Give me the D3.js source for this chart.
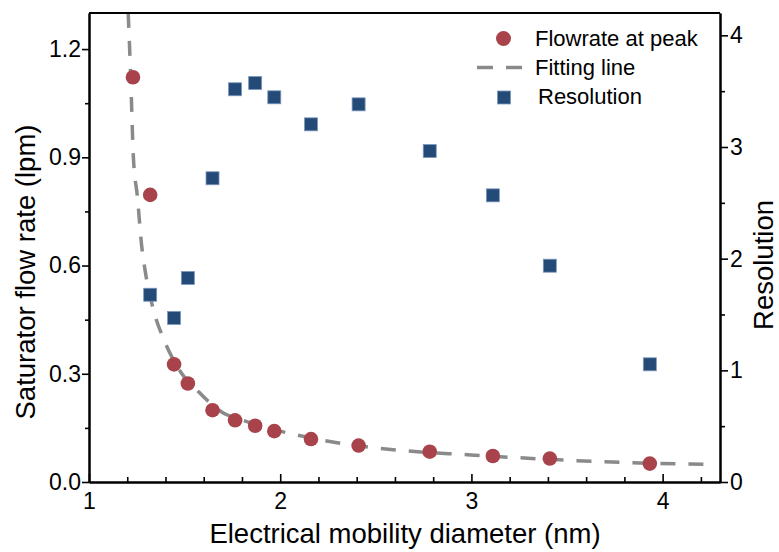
<!DOCTYPE html>
<html><head><meta charset="utf-8">
<script src="https://cdn.jsdelivr.net/npm/d3@7"></script>
<style>
html,body{margin:0;padding:0;background:#fff;}
svg{display:block;font-family:"Liberation Sans",Arial,sans-serif;}
</style></head>
<body><svg id="c" width="779" height="552"></svg>
<script>
// Data
const diameter = [1.23,1.32,1.445,1.517,1.646,1.764,1.869,1.969,2.161,2.41,2.782,3.112,3.41,3.933];
const flowrate = [1.122,0.796,0.326,0.273,0.199,0.171,0.156,0.141,0.119,0.101,0.084,0.072,0.065,0.051];
const resDiameter = [1.32,1.445,1.517,1.646,1.764,1.869,1.969,2.161,2.41,2.782,3.112,3.41,3.933];
const resolution = [1.677,1.469,1.827,2.72,3.517,3.573,3.445,3.203,3.382,2.964,2.567,1.937,1.054];
const fitDiameter = [1.205,1.218,1.232,1.253,1.276,1.293,1.337,1.389,1.433,1.5,1.555,1.625,1.7,1.8,1.9,2.0,2.227,2.524,2.995,3.4,3.69,4.22];
const fitFlow = [1.3,1.124,0.902,0.791,0.652,0.588,0.477,0.398,0.347,0.29,0.26,0.223,0.192,0.172,0.155,0.141,0.115,0.093,0.075,0.063,0.056,0.049];
const xMajor = [1,2,3,4];
const xMinor = [1.2,1.4,1.6,1.8,2.2,2.4,2.6,2.8,3.2,3.4,3.6,3.8,4.2];
const yMajor = [0,0.3,0.6,0.9,1.2];
const yMinor = [0.15,0.45,0.75,1.05];
const rMajor = [0,1,2,3,4];
const rMinor = [0.5,1.5,2.5,3.5];
const legendLabels = ["Flowrate at peak","Fitting line","Resolution"];

const red = "#a8434b", blue = "#244a78", gray = "#8a8a8a";
const L=89, R=720, T=13, B=482;
const svg = d3.select("#c");
const x = d3.scaleLinear().domain([1,4.3]).range([L,R]);
const y = d3.scaleLinear().domain([0,1.3]).range([B,T]);
const y2 = d3.scaleLinear().domain([0,4.2]).range([B,T]);

svg.append("rect").attr("width",779).attr("height",552).attr("fill","#fff");

const defs = svg.append("defs");
defs.append("clipPath").attr("id","clip").append("rect").attr("x",L).attr("y",T).attr("width",R-L).attr("height",B-T);

// fitting line
const line = d3.line().x((d,i)=>x(fitDiameter[i])).y((d,i)=>y(fitFlow[i])).curve(d3.curveMonotoneX);
svg.append("path").datum(fitFlow).attr("clip-path","url(#clip)")
  .attr("d",line).attr("fill","none").attr("stroke",gray).attr("stroke-width",3.5)
  .attr("stroke-dasharray","15,13");

// squares
const sq=13;
svg.append("g").selectAll("rect").data(resolution).join("rect")
  .attr("x",(d,i)=>x(resDiameter[i])-sq/2).attr("y",d=>y2(d)-sq/2)
  .attr("width",sq).attr("height",sq).attr("fill",blue)
  .attr("stroke","#7d98bd").attr("stroke-width",0.8);

// circles
svg.append("g").selectAll("circle").data(flowrate).join("circle")
  .attr("cx",(d,i)=>x(diameter[i])).attr("cy",d=>y(d)).attr("r",7.3).attr("fill",red);

// frame top
svg.append("line").attr("x1",L).attr("x2",R).attr("y1",T).attr("y2",T).attr("stroke","#000").attr("stroke-width",2);

function styleAxis(g){
  g.selectAll(".domain").attr("stroke","#000").attr("stroke-width",2);
  g.selectAll(".tick line").attr("stroke","#000").attr("stroke-width",1.6);
  g.selectAll("text").attr("font-size",23).attr("fill","#000").attr("font-family","Liberation Sans, Arial, sans-serif");
}
// bottom axis (inward ticks)
const gx = svg.append("g").attr("transform",`translate(0,${B})`)
  .call(d3.axisBottom(x).tickValues(xMajor).tickFormat(d3.format("d")).tickSize(-8).tickSizeOuter(0).tickPadding(11));
styleAxis(gx);
const gxm = svg.append("g").attr("transform",`translate(0,${B})`)
  .call(d3.axisBottom(x).tickValues(xMinor).tickFormat("").tickSize(-5).tickSizeOuter(0));
styleAxis(gxm);

// left axis
const gy = svg.append("g").attr("transform",`translate(${L},0)`)
  .call(d3.axisLeft(y).tickValues(yMajor).tickFormat(d3.format(".1f")).tickSize(7).tickSizeOuter(0).tickPadding(1));
styleAxis(gy);
const gym = svg.append("g").attr("transform",`translate(${L},0)`)
  .call(d3.axisLeft(y).tickValues(yMinor).tickFormat("").tickSize(4).tickSizeOuter(0));
styleAxis(gym);

// right axis
const gr = svg.append("g").attr("transform",`translate(${R},0)`)
  .call(d3.axisRight(y2).tickValues(rMajor).tickFormat(d3.format("d")).tickSize(8).tickSizeOuter(0).tickPadding(2));
styleAxis(gr);
const grm = svg.append("g").attr("transform",`translate(${R},0)`)
  .call(d3.axisRight(y2).tickValues(rMinor).tickFormat("").tickSize(5).tickSizeOuter(0));
styleAxis(grm);

// axis titles
svg.append("text").attr("x",405).attr("y",543).attr("text-anchor","middle")
  .attr("font-size",27.5).text("Electrical mobility diameter (nm)");
svg.append("text").attr("transform","translate(35,272) rotate(-90)").attr("text-anchor","middle")
  .attr("font-size",27.5).text("Saturator flow rate (lpm)");
svg.append("text").attr("transform","translate(773,265) rotate(-90)").attr("text-anchor","middle")
  .attr("font-size",27.5).text("Resolution");

// legend
const lg = svg.append("g");
lg.append("circle").attr("cx",503.5).attr("cy",38.5).attr("r",7.5).attr("fill",red);
lg.append("line").attr("x1",477).attr("x2",522).attr("y1",67.5).attr("y2",67.5)
  .attr("stroke",gray).attr("stroke-width",3.5).attr("stroke-dasharray","16,13");
lg.append("rect").attr("x",504-6.5).attr("y",97.5-6.5).attr("width",13).attr("height",13).attr("fill",blue)
  .attr("stroke","#7d98bd").attr("stroke-width",0.8);
const lx=[535,535,538], ly=[45.5,74.5,104];
lg.selectAll("text").data(legendLabels).join("text")
  .attr("x",(d,i)=>lx[i]).attr("y",(d,i)=>ly[i]).attr("font-size",22).text(d=>d);
</script></body></html>
